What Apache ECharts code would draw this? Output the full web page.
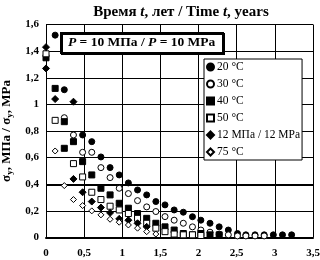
<!DOCTYPE html>
<html><head><meta charset="utf-8">
<script src="https://cdn.jsdelivr.net/npm/echarts@6/dist/echarts.min.js"></script>
<style>html,body{margin:0;padding:0;background:#fff}#c{width:320px;height:260px}</style>
</head><body><div id="c"></div>
<script>
const xTicks = [0, 0.5, 1, 1.5, 2, 2.5, 3, 3.5];
const yTicks = [0, 0.2, 0.4, 0.6, 0.8, 1, 1.2, 1.4, 1.6];
const seriesNames = ['20 °C', '30 °C', '40 °C', '50 °C', '12 МПа / 12 MPa', '75 °C'];
const refLine = 0.4;

const s20 = [[0.12,1.52],[0.24,1.11],[0.48,0.77],[0.60,0.72],[0.72,0.605],[0.84,0.525],[0.96,0.47],[1.08,0.41],[1.20,0.357],[1.32,0.32],[1.44,0.27],[1.56,0.245],[1.68,0.207],[1.80,0.19],[1.92,0.156],[2.03,0.13],[2.15,0.107],[2.27,0.08],[2.39,0.056],[2.51,0.03],[2.62,0.02],[2.74,0.02],[2.86,0.02],[2.98,0.02],[3.10,0.02],[3.22,0.02]];
const s30 = [[0.24,0.90],[0.36,0.77],[0.48,0.64],[0.60,0.64],[0.72,0.525],[0.84,0.45],[0.96,0.37],[1.08,0.33],[1.20,0.277],[1.32,0.23],[1.44,0.195],[1.56,0.157],[1.68,0.13],[1.80,0.107],[1.92,0.08],[2.03,0.056],[2.15,0.04],[2.27,0.025],[2.39,0.02],[2.51,0.012],[2.62,0.012],[2.74,0.012],[2.86,0.012]];
const s40 = [[0,1.35],[0.12,1.12],[0.24,0.87],[0.24,0.67],[0.36,0.72],[0.48,0.57],[0.60,0.47],[0.72,0.37],[0.84,0.32],[0.96,0.257],[1.08,0.22],[1.20,0.18],[1.32,0.144],[1.44,0.107],[1.56,0.08],[1.68,0.056],[1.80,0.03],[1.92,0.02],[2.03,0.03],[2.15,0.02],[2.27,0.02]];
const s50 = [[0,1.38],[0.12,0.88],[0.36,0.555],[0.48,0.455],[0.60,0.34],[0.72,0.285],[0.84,0.235],[0.96,0.207],[1.08,0.18],[1.20,0.144],[1.32,0.107],[1.44,0.07],[1.56,0.044],[1.68,0.026],[1.80,0.02],[1.92,0.02],[2.03,0.015]];
const s12 = [[0,1.43],[0,1.27],[0.12,1.04],[0.36,1.02],[0.36,0.44],[0.48,0.34],[0.60,0.27],[0.72,0.225],[0.84,0.185],[0.96,0.14],[1.08,0.13],[1.20,0.107],[1.32,0.08]];
const s75 = [[0.12,0.65],[0.24,0.39],[0.36,0.285],[0.48,0.24],[0.60,0.20],[0.72,0.17],[0.84,0.137],[0.96,0.115],[1.08,0.094],[1.20,0.07],[1.32,0.044],[1.44,0.026]];

const FONT = 'Liberation Serif';
const comma = v => String(+v.toFixed(2)).replace('.', ',');
const styles = [
  {symbol:'circle', size:6, fill:'#000'},
  {symbol:'circle', size:6, fill:'#fff'},
  {symbol:'rect', size:6, fill:'#000'},
  {symbol:'rect', size:6, fill:'#fff'},
  {symbol:'diamond', size:7, fill:'#000'},
  {symbol:'diamond', size:6, fill:'#fff'}
];
const dataSets = [s20, s30, s40, s50, s12, s75];

const series = dataSets.map((d, i) => ({
  name: seriesNames[i], type: 'scatter', data: d,
  symbol: styles[i].symbol, symbolSize: styles[i].size,
  itemStyle: {color: styles[i].fill, borderColor: '#000', borderWidth: 1, opacity: 1},
  emphasis: {disabled: true}, z: 3 + i
}));
series[0].markLine = {
  silent: true, symbol: 'none', label: {show: false},
  lineStyle: {color: '#000', width: 2, type: 'solid'},
  data: [{yAxis: refLine}], z: 2
};

const chart = echarts.init(document.getElementById('c'), null, {renderer: 'canvas'});
chart.setOption({
  animation: false,
  backgroundColor: '#fff',
  textStyle: {fontFamily: FONT, color: '#000'},
  title: [{
    text: '{b|Время }{i|t}{b|, лет / Time }{i|t}{b|, years}',
    left: 176, top: 0, textAlign: 'center',
    textStyle: {rich: {
      b: {fontFamily: FONT, fontWeight: 'bold', fontSize: 15, color: '#000'},
      i: {fontFamily: FONT, fontWeight: 'bold', fontStyle: 'italic', fontSize: 15, color: '#000'}
    }}
  }, {
    text: '{i|P}{b| = 10 МПа / }{i|P}{b| = 10 MPa}',
    left: 61, top: 33,
    borderColor: '#000', borderWidth: 2, padding: [3, 8, 3, 7], backgroundColor: '#fff',
    shadowColor: '#000', shadowOffsetX: 1, shadowOffsetY: 1, shadowBlur: 0,
    textStyle: {rich: {
      b: {fontFamily: FONT, fontWeight: 'bold', fontSize: 13.5, color: '#000'},
      i: {fontFamily: FONT, fontWeight: 'bold', fontStyle: 'italic', fontSize: 13.5, color: '#000'}
    }}
  }],
  legend: {
    orient: 'vertical', left: 204, top: 59,
    data: seriesNames,
    itemWidth: 7, itemHeight: 7, itemGap: 5,
    padding: [2, 2, 2, 2],
    borderColor: '#000', borderWidth: 1, backgroundColor: '#fff',
    textStyle: {fontFamily: FONT, fontSize: 11.5, color: '#000', padding: [0, 0, 0, -2]},
    selectedMode: false
  },
  grid: {left: 46, right: 7, top: 24.5, bottom: 22.5, containLabel: false, outerBoundsMode: 'none'},
  xAxis: {
    type: 'value', min: xTicks[0], max: xTicks[xTicks.length - 1], interval: 0.5,
    axisLine: {show: true, onZero: false, lineStyle: {color: '#000', width: 2}},
    axisTick: {show: false},
    axisLabel: {margin: 10, fontFamily: FONT, fontSize: 11, fontWeight: 'bold', color: '#000', formatter: comma},
    splitLine: {show: true, lineStyle: {color: '#000', width: 1}}
  },
  yAxis: {
    type: 'value', min: yTicks[0], max: yTicks[yTicks.length - 1], interval: 0.2,
    name: '{m|σ}{s|y}{m|, МПа / σ}{s|y}{m|, MPa}',
    nameLocation: 'middle', nameGap: 26, nameRotate: 90,
    nameTextStyle: {rich: {
      m: {fontFamily: FONT, fontWeight: 'bold', fontSize: 13, color: '#000', lineHeight: 16},
      s: {fontFamily: FONT, fontWeight: 'bold', fontSize: 9, color: '#000', lineHeight: 16, verticalAlign: 'bottom', padding: [5, 0, 0, 0]}
    }},
    axisLine: {show: true, lineStyle: {color: '#000', width: 1}},
    axisTick: {show: false},
    axisLabel: {margin: 7, fontFamily: FONT, fontSize: 11, fontWeight: 'bold', color: '#000', formatter: comma},
    splitLine: {show: true, lineStyle: {color: '#000', width: 1}}
  },
  series: series
});
</script></body></html>
